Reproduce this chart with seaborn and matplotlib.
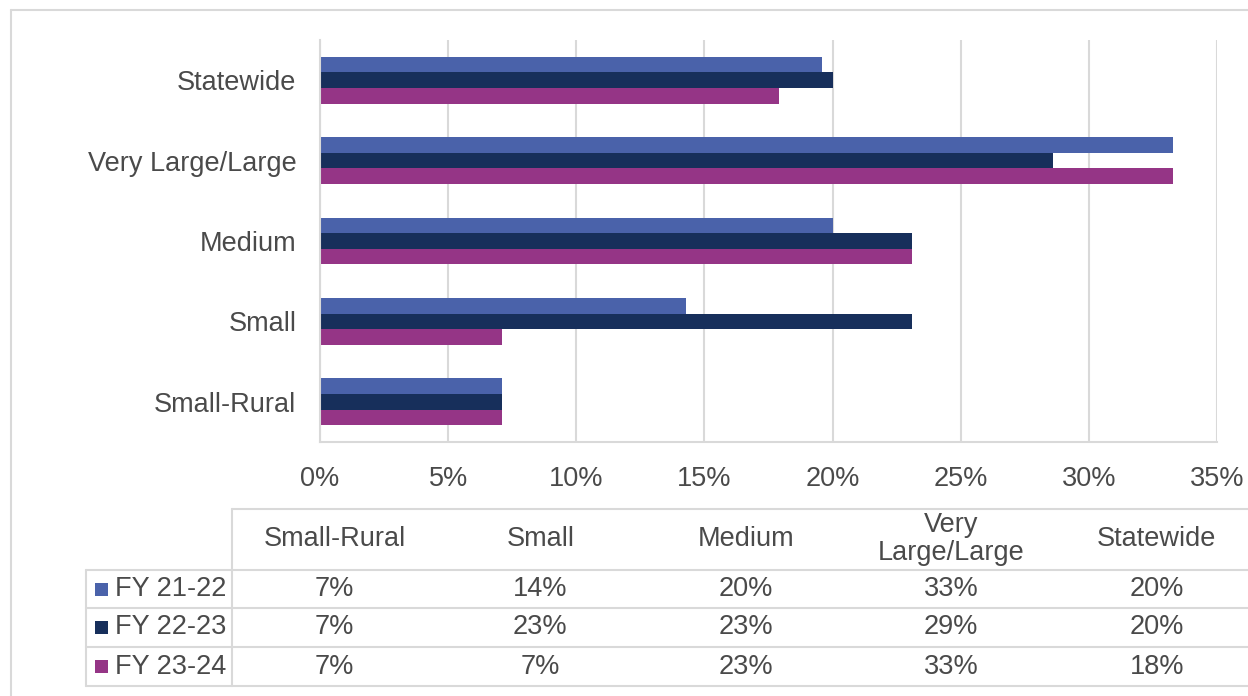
import matplotlib
matplotlib.use("Agg")
import matplotlib.pyplot as plt
from matplotlib.lines import Line2D
from matplotlib.patches import Rectangle
from matplotlib.ticker import FuncFormatter, MultipleLocator
import pandas as pd
import seaborn as sns

# Share of counties per size group, by fiscal year
categories = ["Statewide", "Very Large/Large", "Medium", "Small", "Small-Rural"]
years = ["FY 21-22", "FY 22-23", "FY 23-24"]
fy_21_22 = [0.196, 0.333, 0.200, 0.143, 0.071]
fy_22_23 = [0.200, 0.286, 0.231, 0.231, 0.071]
fy_23_24 = [0.179, 0.333, 0.231, 0.071, 0.071]
# Column order used by the data table under the chart
table_columns = ["Small-Rural", "Small", "Medium", "Very\nLarge/Large", "Statewide"]
table_keys = ["Small-Rural", "Small", "Medium", "Very Large/Large", "Statewide"]
x_ticks = [0.0, 0.05, 0.10, 0.15, 0.20, 0.25, 0.30, 0.35]

colors = ["#4A62AA", "#172F5B", "#953586"]
text_color = "#4A4A4A"
line_color = "#D9D9D9"
fs = 19.5

series = {"FY 21-22": fy_21_22, "FY 22-23": fy_22_23, "FY 23-24": fy_23_24}
df = pd.DataFrame(
    [(cat, yr, vals[i]) for yr, vals in series.items() for i, cat in enumerate(categories)],
    columns=["group", "year", "share"],
)

sns.set_theme(style="white")
plt.rcParams["font.family"] = ["Liberation Sans", "DejaVu Sans"]

W, H = 1248, 696
fig = plt.figure(figsize=(W / 100, H / 100), dpi=100)

# Chart area frame
frame = fig.add_axes([0, 0, 1, 1])
frame.set_xlim(0, W)
frame.set_ylim(H, 0)
frame.axis("off")
frame.add_line(Line2D([11, 11], [10, H], color=line_color, lw=1.5))
frame.add_line(Line2D([11, W], [10, 10], color=line_color, lw=1.5))

# Bar chart
ax = fig.add_axes([320 / W, 1 - 442 / H, (1217 - 320) / W, 402 / H])
sns.barplot(
    data=df, y="group", x="share", hue="year",
    order=categories, hue_order=years, palette=colors,
    orient="h", width=0.58, gap=0, saturation=1, linewidth=0,
    legend=False, ax=ax,
)
ax.set_xlim(0, 0.35)
ax.set_ylim(4.5, -0.5)
ax.xaxis.set_major_locator(MultipleLocator(0.05))
ax.xaxis.set_major_formatter(FuncFormatter(lambda v, _: f"{v:.0%}"))
ax.set_xticks(x_ticks)
ax.grid(axis="x", color=line_color, lw=1.5)
ax.set_axisbelow(True)
ax.set_xlabel("")
ax.set_ylabel("")
for side in ["top", "right"]:
    ax.spines[side].set_visible(False)
for side in ["left", "bottom"]:
    ax.spines[side].set_color(line_color)
    ax.spines[side].set_linewidth(1.5)
ax.tick_params(axis="y", length=0, pad=17, labelsize=fs, labelcolor=text_color)
ax.tick_params(axis="x", length=0, pad=17, labelsize=fs, labelcolor=text_color)

# Data table beneath the chart
col_left = 232
col_w = 205.5
row_tops = [509, 570, 608, 647, 686]
for y in row_tops:
    x0 = col_left if y == row_tops[0] else 86
    frame.add_line(Line2D([x0, W], [y, y], color=line_color, lw=1.5))
frame.add_line(Line2D([86, 86], [570, 686], color=line_color, lw=1.5))
frame.add_line(Line2D([col_left, col_left], [509, 686], color=line_color, lw=1.5))

for j, name in enumerate(table_columns):
    cx = col_left + col_w * (j + 0.5)
    frame.text(cx, 539, name, ha="center", va="center", fontsize=fs,
               color=text_color, linespacing=1.08)

lookup = {yr: dict(zip(categories, vals)) for yr, vals in series.items()}
for i, yr in enumerate(years):
    cy = (row_tops[i + 1] + row_tops[i + 2]) / 2
    frame.add_patch(Rectangle((95, cy - 6.5), 13, 13, color=colors[i], lw=0))
    frame.text(115, cy, yr, ha="left", va="center", fontsize=fs, color=text_color)
    for j, key in enumerate(table_keys):
        cx = col_left + col_w * (j + 0.5)
        frame.text(cx, cy, f"{lookup[yr][key]:.0%}", ha="center", va="center",
                   fontsize=fs, color=text_color)

fig.savefig("out.png", dpi=100, facecolor="white")
